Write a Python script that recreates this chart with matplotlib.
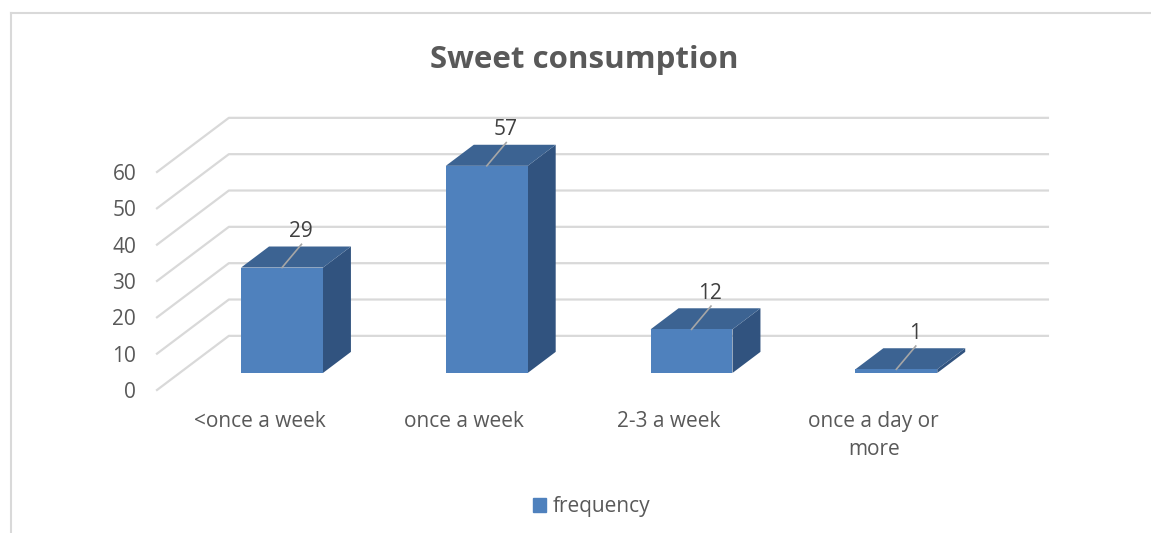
import matplotlib.pyplot as plt
from matplotlib.patches import Polygon, Patch
from matplotlib.lines import Line2D

plt.rcParams['font.family'] = ['Open Sans', 'DejaVu Sans']

# data
categories = ["<once a week", "once a week", "2-3 a week", "once a day or\nmore"]
frequency = [29, 57, 12, 1]
y_ticks = [0, 10, 20, 30, 40, 50, 60]

# fake 3d: depth of the floor expressed in data units (x in categories, y in values)
DX = 0.351     # shift along x going from front to back wall
DY = 14.9      # shift along y going from front to back wall
z_front, z_back = 0.315, 0.704   # bar depth (fraction of floor depth)
bar_w = 0.4

front_col = "#4F81BD"
top_col = "#3C6392"
side_col = "#31537F"
grid_col = "#D9D9D9"
text_col = "#595959"


def proj(x, y, z):
    return (x + DX * z, y + DY * z)


fig = plt.figure(figsize=(11.51, 5.33), dpi=100)
ax = fig.add_axes([0.1364, 0.2683, 0.7116, 0.5113])
ax.set_xlim(-0.5, 3.5)
ax.set_ylim(0, 75)
for s in ax.spines.values():
    s.set_visible(False)

# gridlines: front edge diagonal + back wall
for g in y_ticks:
    p0 = proj(-0.5, g, 0)
    p1 = proj(-0.5, g, 1)
    p2 = proj(3.5, g, 1)
    ax.plot([p0[0], p1[0], p2[0]], [p0[1], p1[1], p2[1]],
            color=grid_col, lw=1.6, clip_on=False, zorder=1)

# bars
for i, v in enumerate(frequency):
    x0, x1 = i - bar_w / 2, i + bar_w / 2
    front = [proj(x0, 0, z_front), proj(x1, 0, z_front),
             proj(x1, v, z_front), proj(x0, v, z_front)]
    top = [proj(x0, v, z_front), proj(x1, v, z_front),
           proj(x1, v, z_back), proj(x0, v, z_back)]
    side = [proj(x1, 0, z_front), proj(x1, 0, z_back),
            proj(x1, v, z_back), proj(x1, v, z_front)]
    ax.add_patch(Polygon(side, closed=True, fc=side_col, ec='none', zorder=3, clip_on=False))
    ax.add_patch(Polygon(top, closed=True, fc=top_col, ec='none', zorder=3, clip_on=False))
    ax.add_patch(Polygon(front, closed=True, fc=front_col, ec='none', zorder=4, clip_on=False))

    # data label with leader line
    lx, ly = proj(i, v, z_front)
    ex, ey = lx + 0.095, ly + 6.4
    ax.plot([lx, ex], [ly, ey], color="#A6A6A6", lw=1.2, zorder=5, clip_on=False)
    ax.text(ex - 0.005, ey + 0.6, str(v), ha='center', va='bottom', fontsize=15,
            color="#404040", zorder=6)

ax.set_yticks(y_ticks)
ax.set_xticks(range(len(categories)))
ax.set_xticklabels(categories, linespacing=1.45)
ax.tick_params(axis='y', length=0, pad=15, labelsize=15, labelcolor=text_col)
ax.tick_params(axis='x', length=0, pad=15, labelsize=15, labelcolor=text_col)

fig.text(0.508, 0.8724, "Sweet consumption", ha='center', va='baseline',
         fontsize=22.5, fontweight='bold', color=text_col)

fig.legend(handles=[Patch(color=front_col, label="frequency")],
           loc='center', bbox_to_anchor=(0.514, 0.0488), frameon=False,
           fontsize=15, labelcolor=text_col, handlelength=0.65, handleheight=0.65,
           handletextpad=0.3)

# chart frame (cropped on right and bottom)
fig.add_artist(Line2D([11 / 1151, 11 / 1151], [0, 1 - 13 / 533],
                      transform=fig.transFigure, color=grid_col, lw=1.5))
fig.add_artist(Line2D([11 / 1151, 1], [1 - 13 / 533, 1 - 13 / 533],
                      transform=fig.transFigure, color=grid_col, lw=1.5))

fig.savefig("out.png", dpi=100)
